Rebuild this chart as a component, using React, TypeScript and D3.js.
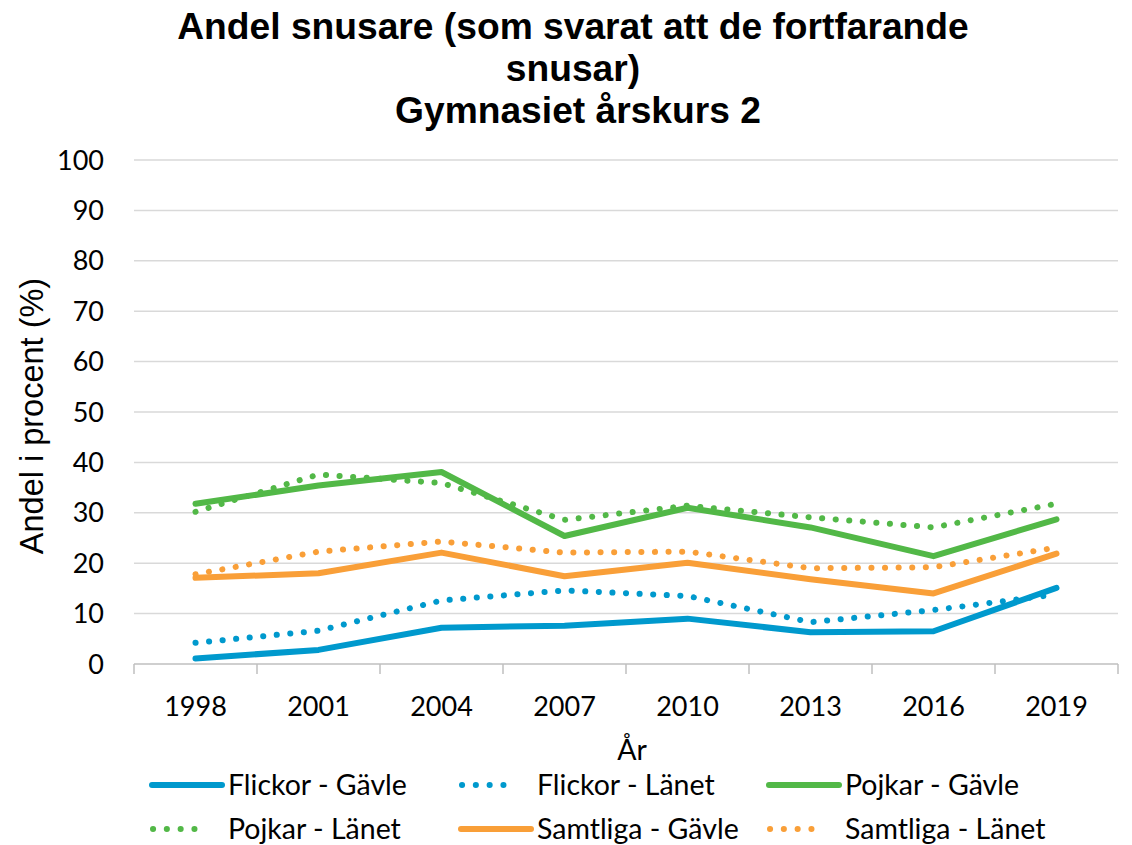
import React from "react";
import * as d3 from "d3";

const years = ["1998", "2001", "2004", "2007", "2010", "2013", "2016", "2019"];
const flickorGavle = [1.1, 2.8, 7.2, 7.6, 9.0, 6.3, 6.5, 15.1];
const flickorLanet = [4.2, 6.6, 12.6, 14.6, 13.5, 8.3, 10.7, 13.8];
const pojkarGavle = [31.8, 35.4, 38.1, 25.4, 31.0, 27.1, 21.4, 28.7];
const pojkarLanet = [30.2, 37.6, 35.9, 28.6, 31.4, 29.1, 27.1, 31.8];
const samtligaGavle = [17.1, 18.0, 22.1, 17.4, 20.1, 16.8, 14.0, 21.9];
const samtligaLanet = [17.8, 22.3, 24.3, 22.1, 22.3, 19.0, 19.2, 23.1];
const yTicks = [0, 10, 20, 30, 40, 50, 60, 70, 80, 90, 100];

const BLUE = "#0099cd";
const GREEN = "#52b847";
const ORANGE = "#f99f38";

const series = [
  { name: "Flickor - Gävle", values: flickorGavle, color: BLUE, dotted: false },
  { name: "Flickor - Länet", values: flickorLanet, color: BLUE, dotted: true },
  { name: "Pojkar - Gävle", values: pojkarGavle, color: GREEN, dotted: false },
  { name: "Pojkar - Länet", values: pojkarLanet, color: GREEN, dotted: true },
  { name: "Samtliga - Gävle", values: samtligaGavle, color: ORANGE, dotted: false },
  { name: "Samtliga - Länet", values: samtligaLanet, color: ORANGE, dotted: true },
];

export default function App() {
  const W = 1132;
  const H = 845;
  const left = 134;
  const right = 1118;
  const top = 160;
  const bottom = 664;

  const x = d3.scaleBand<string>().domain(years).range([left, right]).paddingInner(0).paddingOuter(0);
  const y = d3.scaleLinear().domain([0, 100]).range([bottom, top]);
  const cx = (yr: string) => (x(yr) as number) + x.bandwidth() / 2;

  const line = d3
    .line<number>()
    .x((_, i) => cx(years[i]))
    .y((d) => y(d));

  const boundaries = years.map((yr) => x(yr) as number).concat([right]);

  const legendCols = [152, 461, 769];
  const legendRows = [785, 829];
  const labelFont = "Lato, 'Open Sans', sans-serif";

  return (
    <svg width={W} height={H} style={{ position: "absolute", left: 0, top: 0, background: "#fff" }}>
      <rect x={0} y={0} width={W} height={H} fill="#fff" />
      {/* Title */}
      <g fontFamily="'Liberation Sans', Arial, sans-serif" fontWeight="bold" fontSize={37.2} textAnchor="middle" fill="#000">
        <text x={573} y={39}>Andel snusare (som svarat att de fortfarande</text>
        <text x={573} y={81}>snusar)</text>
        <text x={578} y={123}>Gymnasiet årskurs 2</text>
      </g>

      {/* gridlines */}
      {yTicks.filter((t) => t > 0).map((t) => (
        <line key={t} x1={left} x2={right} y1={y(t)} y2={y(t)} stroke="#d9d9d9" strokeWidth={1.5} />
      ))}
      {/* y tick labels */}
      {yTicks.map((t) => (
        <text key={t} x={104} y={y(t) + 9.5} textAnchor="end" fontFamily={labelFont} fontSize={27} fill="#000">
          {t}
        </text>
      ))}
      {/* x axis */}
      <line x1={left} x2={right} y1={bottom} y2={bottom} stroke="#bfbfbf" strokeWidth={1.5} />
      {boundaries.map((b, i) => (
        <line key={i} x1={b} x2={b} y1={bottom} y2={bottom + 10} stroke="#bfbfbf" strokeWidth={1.5} />
      ))}
      {years.map((yr) => (
        <text key={yr} x={cx(yr)} y={716} textAnchor="middle" fontFamily={labelFont} fontSize={27} fill="#000">
          {yr}
        </text>
      ))}
      {/* axis titles */}
      <text x={632} y={760} textAnchor="middle" fontFamily={labelFont} fontSize={28.5} fill="#000">
        År
      </text>
      <text
        transform={`translate(43, 416) rotate(-90)`}
        textAnchor="middle"
        fontFamily="'Liberation Sans', Arial, sans-serif"
        fontSize={32.5}
        fill="#000"
      >
        Andel i procent (%)
      </text>

      {/* series */}
      {series.map((s) => (
        <path
          key={s.name}
          d={line(s.values) || ""}
          fill="none"
          stroke={s.color}
          strokeWidth={6}
          strokeLinecap="round"
          strokeLinejoin="round"
          strokeDasharray={s.dotted ? "0.1 13.5" : undefined}
        />
      ))}

      {/* legend */}
      {series.map((s, i) => {
        const col = i % 3;
        const row = Math.floor(i / 3);
        const x0 = legendCols[col];
        const yy = legendRows[row];
        return (
          <g key={s.name}>
            <line
              x1={x0 + (s.dotted ? 1 : 0)}
              x2={x0 + (s.dotted ? 56 : 70)}
              y1={yy}
              y2={yy}
              stroke={s.color}
              strokeWidth={6}
              strokeLinecap="round"
              strokeDasharray={s.dotted ? "0.1 13.7" : undefined}
            />
            <text x={x0 + 76} y={yy + 10} fontFamily={labelFont} fontSize={28.5} fill="#000">
              {s.name}
            </text>
          </g>
        );
      })}
    </svg>
  );
}
